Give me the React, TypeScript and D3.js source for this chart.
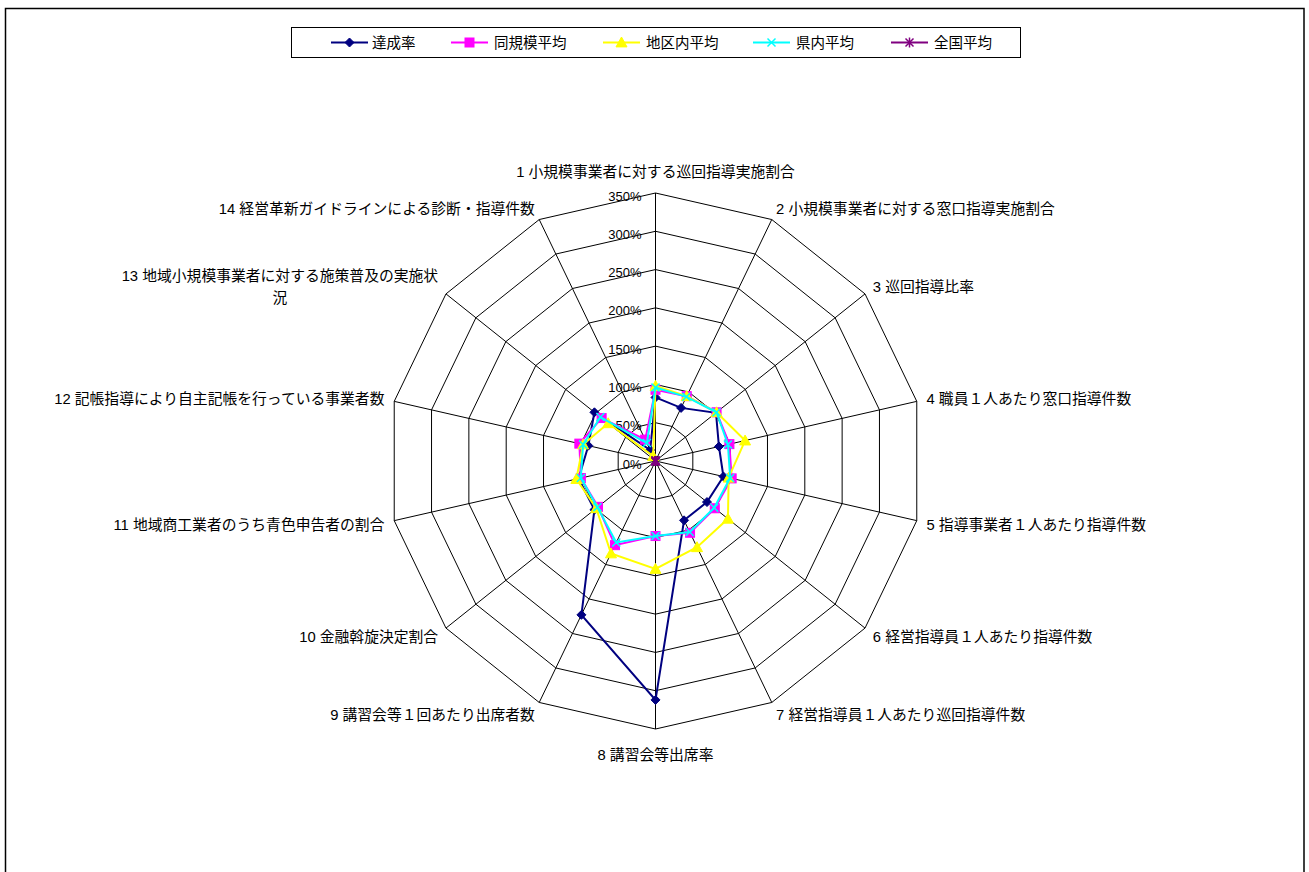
import React from "react";
import * as d3 from "d3";

const categories = [
  "1 小規模事業者に対する巡回指導実施割合",
  "2 小規模事業者に対する窓口指導実施割合",
  "3 巡回指導比率",
  "4 職員１人あたり窓口指導件数",
  "5 指導事業者１人あたり指導件数",
  "6 経営指導員１人あたり指導件数",
  "7 経営指導員１人あたり巡回指導件数",
  "8 講習会等出席率",
  "9 講習会等１回あたり出席者数",
  "10 金融斡旋決定割合",
  "11 地域商工業者のうち青色申告者の割合",
  "12 記帳指導により自主記帳を行っている事業者数",
  "13 地域小規模事業者に対する施策普及の実施状|況",
  "14 経営革新ガイドラインによる診断・指導件数",
];

const seriesNames = ["達成率", "同規模平均", "地区内平均", "県内平均", "全国平均"];

const tasseiritsu = [83, 77, 101, 85, 91, 86, 86, 312, 223, 102, 103, 90, 102, 16];
const doukiboHeikin = [93, 94, 102, 99, 102, 99, 104, 98, 122, 96, 100, 102, 90, 31];
const chikunaiHeikin = [98, 94, 102, 120, 98, 121, 125, 141, 134, 99, 106, 97, 79, 7];
const kennaiHeikin = [96, 93, 102, 97, 100, 98, 103, 98, 118, 97, 100, 97, 92, 26];
const zenkokuHeikin = [0, 0, 0, 0, 0, 0, 0, 0, 0, 0, 0, 0, 0, 0];

const tickValues = [0, 50, 100, 150, 200, 250, 300, 350];
const tickLabels = ["0%", "50%", "100%", "150%", "200%", "250%", "300%", "350%"];

const seriesValues = [tasseiritsu, doukiboHeikin, chikunaiHeikin, kennaiHeikin, zenkokuHeikin];
const seriesColors = ["#000080", "#FF00FF", "#FFFF00", "#00FFFF", "#800080"];
const seriesMarkers = ["diamond", "square", "triangle", "x", "star"];

const FONT = '"Liberation Sans", "Noto Sans CJK JP", sans-serif';
const LABEL_SIZE = 14.8;

function Marker({ type, x, y, color }: { type: string; x: number; y: number; color: string }) {
  if (type === "diamond") {
    const s = 4.5;
    return <path d={`M${x},${y - s}L${x + s},${y}L${x},${y + s}L${x - s},${y}Z`} fill={color} stroke={color} strokeWidth={1} />;
  }
  if (type === "square") {
    const s = 4.5;
    return <rect x={x - s} y={y - s} width={2 * s} height={2 * s} fill={color} stroke={color} strokeWidth={1} />;
  }
  if (type === "triangle") {
    const s = 5.5;
    return <path d={`M${x},${y - s}L${x + s},${y + s * 0.8}L${x - s},${y + s * 0.8}Z`} fill={color} stroke={color} strokeWidth={1} />;
  }
  if (type === "x") {
    const s = 4;
    return <path d={`M${x - s},${y - s}L${x + s},${y + s}M${x - s},${y + s}L${x + s},${y - s}`} stroke={color} strokeWidth={1.5} fill="none" />;
  }
  const s = 4;
  return (
    <path
      d={`M${x - s},${y - s}L${x + s},${y + s}M${x - s},${y + s}L${x + s},${y - s}M${x},${y - s - 1}L${x},${y + s + 1}`}
      stroke={color}
      strokeWidth={1.5}
      fill="none"
    />
  );
}

function measure(text: string, font: string): number {
  const c = document.createElement("canvas");
  const ctx = c.getContext("2d");
  if (!ctx) return text.length * 14;
  ctx.font = font;
  return ctx.measureText(text).width;
}

export default function App() {
  const W = 1309;
  const H = 872;
  const cx = 655.5;
  const cy = 461;
  const R = 268;
  const n = categories.length;

  const r = d3.scaleLinear().domain([0, 350]).range([0, R]);
  const angle = d3.scaleLinear().domain([0, n]).range([0, 2 * Math.PI]);

  const pt = (i: number, v: number): [number, number] => {
    const a = angle(i);
    return [cx + r(v) * Math.sin(a), cy - r(v) * Math.cos(a)];
  };

  const lineGen = (vals: number[]) =>
    d3.line<number>()
      .x((v, i) => pt(i, v)[0])
      .y((v, i) => pt(i, v)[1])
      .curve(d3.curveLinearClosed)(vals) as string;

  const ringPath = (t: number) =>
    d3.line<number>()
      .x((_, i) => pt(i, t)[0])
      .y((_, i) => pt(i, t)[1])
      .curve(d3.curveLinearClosed)(d3.range(n)) as string;

  const legendItems = [
    { x: 331, tx: 372 },
    { x: 451, tx: 494 },
    { x: 603, tx: 646 },
    { x: 753, tx: 796 },
    { x: 891, tx: 934 },
  ];

  const labelFont = `${LABEL_SIZE}px ` + FONT;

  return (
    <svg width={W} height={H} style={{ position: "absolute", left: 0, top: 0, background: "#fff" }} fontFamily={FONT}>
      <rect x={0} y={0} width={W} height={H} fill="#fff" />
      <rect x={5.5} y={8.5} width={1298.5} height={880} fill="none" stroke="#000" strokeWidth={1.5} />

      {/* legend */}
      <rect x={291.5} y={27.5} width={729} height={30} fill="#fff" stroke="#000" strokeWidth={1} />
      {seriesNames.map((name, k) => {
        const it = legendItems[k];
        const ly = 42.5;
        return (
          <g key={name}>
            <line x1={it.x} x2={it.x + 37} y1={ly} y2={ly} stroke={seriesColors[k]} strokeWidth={2} />
            <Marker type={seriesMarkers[k]} x={it.x + 18.5} y={ly} color={seriesColors[k]} />
            <text x={it.tx} y={ly} dominantBaseline="central" fontSize={14.5} fill="#000">
              {name}
            </text>
          </g>
        );
      })}

      {/* grid rings */}
      {tickValues.map((t) =>
        t === 0 ? null : <path key={t} d={ringPath(t)} fill="none" stroke="#000" strokeWidth={1} />
      )}
      {/* spokes */}
      {d3.range(n).map((i) => {
        const [x, y] = pt(i, 350);
        return <line key={i} x1={cx} y1={cy} x2={x} y2={y} stroke="#000" strokeWidth={1} />;
      })}

      {/* tick labels */}
      {tickValues.map((t, k) => (
        <text key={t} x={cx - 14} y={cy - r(t) + 3} textAnchor="end" dominantBaseline="central" fontSize={13} fill="#000">
          {tickLabels[k]}
        </text>
      ))}

      {/* category labels */}
      {categories.map((c, i) => {
        const a = angle(i);
        const s = Math.sin(a);
        const co = Math.cos(a);
        const d = 10;
        let x = cx + (R + d) * s;
        let y = cy - (R + d) * co;
        let anchor: "start" | "end" | "middle" = "middle";
        if (s > 0.01) anchor = "start";
        else if (s < -0.01) anchor = "end";
        if (co > 0.99) y -= 11;
        else if (co < -0.99) y += 16;
        else y += -co * 3 + 1;
        const lines = c.split("|");
        if (lines.length === 1) {
          return (
            <text key={i} x={x} y={y} textAnchor={anchor} dominantBaseline="central" fontSize={LABEL_SIZE} fill="#000">
              {c}
            </text>
          );
        }
        const w = measure(lines[0], labelFont);
        const mid = anchor === "end" ? x - w / 2 : anchor === "start" ? x + w / 2 : x;
        const lh = 22;
        const y0 = y - ((lines.length - 1) * lh) / 2;
        return (
          <text key={i} x={mid} y={y0} textAnchor="middle" dominantBaseline="central" fontSize={LABEL_SIZE} fill="#000">
            {lines.map((l, j) => (
              <tspan key={j} x={mid} y={y0 + j * lh}>
                {l}
              </tspan>
            ))}
          </text>
        );
      })}

      {/* series */}
      {seriesValues.map((vals, k) => (
        <g key={k}>
          <path d={lineGen(vals)} fill="none" stroke={seriesColors[k]} strokeWidth={2} />
          {vals.map((v, i) => {
            const [x, y] = pt(i, v);
            return <Marker key={i} type={seriesMarkers[k]} x={x} y={y} color={seriesColors[k]} />;
          })}
        </g>
      ))}
    </svg>
  );
}
